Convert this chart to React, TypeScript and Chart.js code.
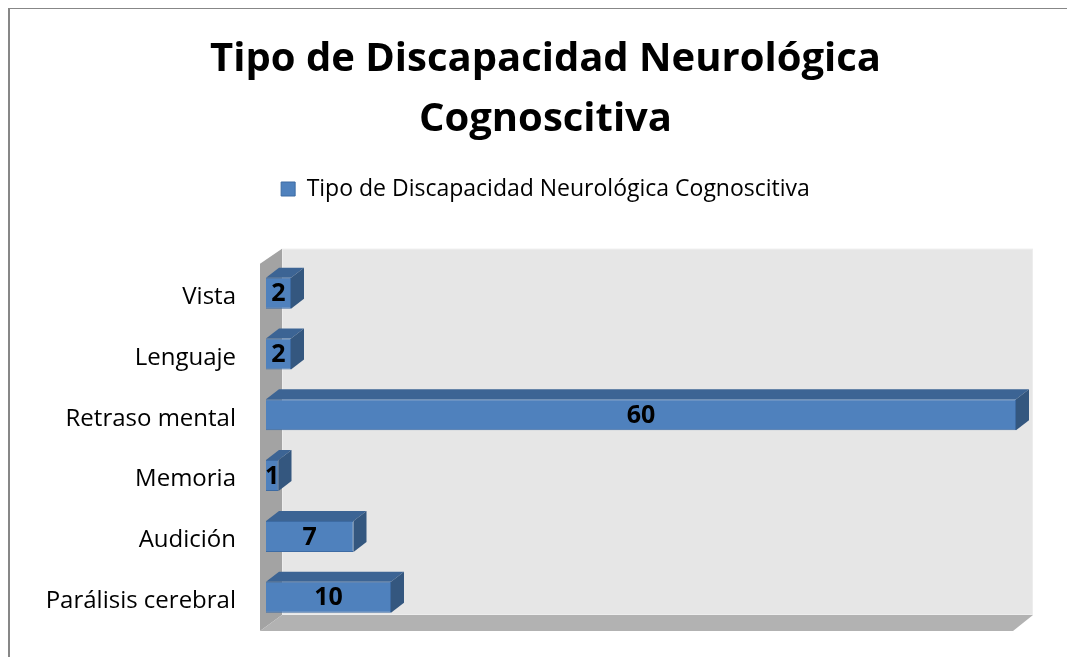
import React, { useEffect, useRef } from "react";
import { Chart, registerables } from "chart.js";
Chart.register(...registerables);

const categories = ["Vista", "Lenguaje", "Retraso mental", "Memoria", "Audición", "Parálisis cerebral"];
const values = [2, 2, 60, 1, 7, 10];
const seriesName = "Tipo de Discapacidad Neurológica Cognoscitiva";
const titleLines = ["Tipo de Discapacidad Neurológica", "Cognoscitiva"];
const axisMin = 0;
const axisMax = 60;

const FONT = "'Open Sans'";
const DEPTH_X = 13;
const DEPTH_Y = -10;

const frame3d = {
  id: "frame3d",
  beforeDraw(chart: any) {
    const { ctx, width, height } = chart;
    ctx.save();
    ctx.strokeStyle = "#878787";
    ctx.lineWidth = 2;
    ctx.strokeRect(1, 1, width + 10, height + 10);
    ctx.restore();
  },
  beforeDatasetsDraw(chart: any) {
    const { ctx, chartArea: a } = chart;
    const fL = a.left - 6, fR = a.right - 3, fT = a.top + 1, fB = a.bottom + 3.4;
    const bL = fL + 22, bR = fR + 20, bT = fT - 15, bB = fB - 16;
    ctx.save();
    // back wall
    ctx.fillStyle = "#e6e6e6";
    ctx.fillRect(bL, bT, bR - bL, bB - bT);
    ctx.strokeStyle = "#ededed";
    ctx.lineWidth = 1;
    ctx.strokeRect(bL + 0.5, bT + 0.5, bR - bL - 1, bB - bT - 1);
    // left wall
    ctx.fillStyle = "#a3a3a3";
    ctx.beginPath();
    ctx.moveTo(fL, fT);
    ctx.lineTo(bL, bT);
    ctx.lineTo(bL, bB);
    ctx.lineTo(fL, fB);
    ctx.closePath();
    ctx.fill();
    // floor
    ctx.fillStyle = "#b2b2b2";
    ctx.beginPath();
    ctx.moveTo(fL, fB);
    ctx.lineTo(bL, bB);
    ctx.lineTo(bR, bB);
    ctx.lineTo(fR, fB);
    ctx.closePath();
    ctx.fill();
    // bar extrusions
    const meta = chart.getDatasetMeta(0);
    meta.data.forEach((el: any) => {
      const p = el.getProps(["x", "y", "base", "height"], true);
      const left = Math.min(p.base, p.x);
      const right = Math.max(p.base, p.x);
      const top = p.y - p.height / 2;
      const bottom = p.y + p.height / 2;
      ctx.fillStyle = "#3c6494";
      ctx.beginPath();
      ctx.moveTo(left, top);
      ctx.lineTo(left + DEPTH_X, top + DEPTH_Y);
      ctx.lineTo(right + DEPTH_X, top + DEPTH_Y);
      ctx.lineTo(right, top);
      ctx.closePath();
      ctx.fill();
      ctx.fillStyle = "#34577f";
      ctx.beginPath();
      ctx.moveTo(right, top);
      ctx.lineTo(right + DEPTH_X, top + DEPTH_Y);
      ctx.lineTo(right + DEPTH_X, bottom + DEPTH_Y);
      ctx.lineTo(right, bottom);
      ctx.closePath();
      ctx.fill();
    });
    ctx.restore();
  },
  afterDatasetsDraw(chart: any) {
    const { ctx } = chart;
    const meta = chart.getDatasetMeta(0);
    const data = chart.data.datasets[0].data;
    ctx.save();
    ctx.fillStyle = "#000";
    ctx.font = `bold 25px ${FONT}`;
    ctx.textAlign = "center";
    ctx.textBaseline = "middle";
    meta.data.forEach((el: any, i: number) => {
      const p = el.getProps(["x", "y", "base"], true);
      ctx.fillText(String(data[i]), (p.x + p.base) / 2, p.y + 1);
    });
    ctx.restore();
  },
};

export default function App() {
  const ref = useRef<HTMLCanvasElement>(null);
  useEffect(() => {
    const chart = new Chart(ref.current as HTMLCanvasElement, {
      type: "bar",
      data: {
        labels: categories,
        datasets: [
          {
            label: seriesName,
            data: values,
            backgroundColor: "#4f81bd",
            borderColor: "#3d6ba3",
            borderWidth: 1,
            categoryPercentage: 1,
            barPercentage: 0.51,
          },
        ],
      },
      options: {
        indexAxis: "y",
        animation: false,
        responsive: false,
        layout: { padding: { left: 0, right: 0, bottom: 36.4, top: 0 } },
        plugins: {
          title: {
            display: true,
            text: titleLines,
            color: "#000",
            font: { family: FONT, size: 40, weight: "bold", lineHeight: 1.5 },
            padding: { top: 23, bottom: 17.5 },
          },
          legend: {
            display: true,
            position: "top",
            labels: {
              color: "#000",
              font: { family: FONT, size: 23 },
              boxWidth: 14,
              boxHeight: 14,
              padding: 10,
            },
          },
          tooltip: { enabled: false },
        },
        scales: {
          x: {
            position: "top",
            min: axisMin,
            max: axisMax,
            display: true,
            grid: { display: false },
            border: { display: false },
            ticks: { display: false },
            afterFit: (s: any) => {
              s.height = 52.3;
            },
          },
          y: {
            grid: { display: false },
            border: { display: false },
            ticks: {
              color: "#000",
              font: { family: FONT, size: 24 },
              padding: 22,
              labelOffset: 4,
            },
            afterFit: (s: any) => {
              s.width = 258;
            },
          },
          yRight: {
            type: "category",
            position: "right",
            display: true,
            grid: { display: false },
            border: { display: false },
            ticks: { display: false },
            afterFit: (s: any) => {
              s.width = 67;
            },
          },
        },
      },
      plugins: [frame3d],
    });
    return () => chart.destroy();
  }, []);
  return (
    <div style={{ marginTop: -1 }}>
      <canvas ref={ref} width={1075} height={657} style={{ display: "block" }} />
    </div>
  );
}
